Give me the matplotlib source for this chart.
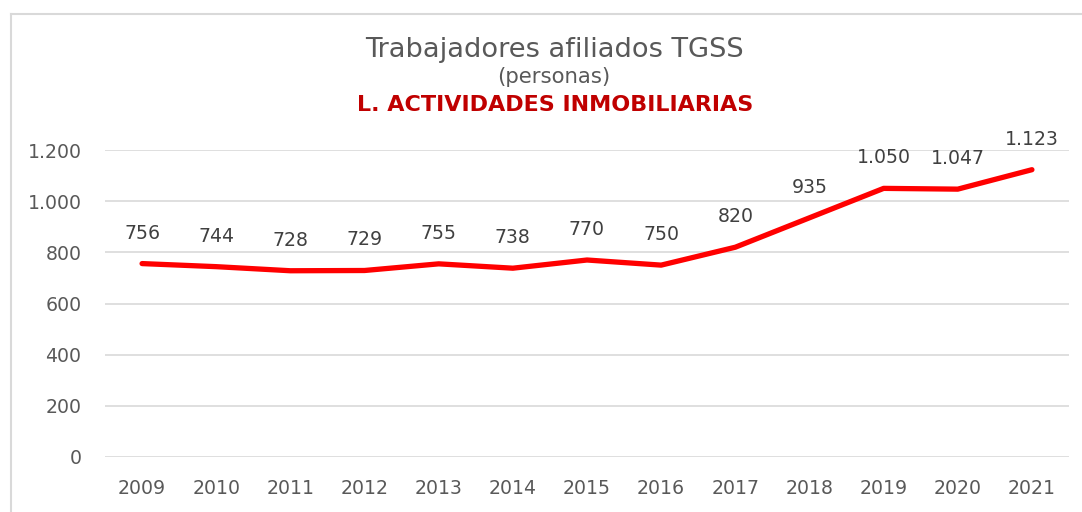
import matplotlib
matplotlib.use("Agg")
import matplotlib.pyplot as plt
from matplotlib.lines import Line2D
from matplotlib.ticker import FuncFormatter

years = ["2009", "2010", "2011", "2012", "2013", "2014", "2015",
         "2016", "2017", "2018", "2019", "2020", "2021"]
values = [756, 744, 728, 729, 755, 738, 770, 750, 820, 935, 1050, 1047, 1123]
yticks = [0, 200, 400, 600, 800, 1000, 1200]

title = "Trabajadores afiliados TGSS"
subtitle = "(personas)"
sector = "L. ACTIVIDADES INMOBILIARIAS"

W, H = 1082, 512
fig = plt.figure(figsize=(W / 100, H / 100), dpi=100)
fig.patch.set_facecolor("white")

# axes: x from 105 to 1069 px, y 0 at 457 px and 1200 at 150 px
ax = fig.add_axes([105 / W, (H - 457) / H, (1069 - 105) / W, (457 - 150) / H])
x = list(range(len(years)))
ax.plot(x, values, color="#FF0000", linewidth=3.8, solid_capstyle="round",
        solid_joinstyle="round", zorder=3)
ax.set_xlim(-0.5, len(years) - 0.5)
ax.set_ylim(0, 1200)
ax.set_yticks(yticks)
ax.yaxis.set_major_formatter(FuncFormatter(lambda v, p: f"{int(v):,}".replace(",", ".")))
ax.set_xticks(x)
ax.set_xticklabels(years)
ax.grid(axis="y", color="#d9d9d9", linewidth=1.2)
ax.set_axisbelow(True)
for s in ax.spines.values():
    s.set_visible(False)
ax.tick_params(length=0, labelsize=13.6, labelcolor="#595959")
ax.tick_params(axis="y", pad=17)
ax.tick_params(axis="x", pad=16)

for xi, v in zip(x, values):
    ax.annotate(f"{v:,}".replace(",", "."), (xi, v), xytext=(0, 22),
                textcoords="offset points", ha="center", va="center",
                fontsize=13.6, color="#404040")

fig.text(554 / W, 1 - 50 / H, title, ha="center", va="center", fontsize=19.6, color="#595959")
fig.text(554 / W, 1 - 77 / H, subtitle, ha="center", va="center", fontsize=15.3, color="#595959")
fig.text(555 / W, 1 - 105 / H, sector, ha="center", va="center", fontsize=16,
         fontweight="bold", color="#C00000")

# chart border (top and left visible)
fig.add_artist(Line2D([10.5 / W, 1.0], [1 - 13.5 / H, 1 - 13.5 / H],
                      transform=fig.transFigure, color="#d9d9d9", linewidth=1.5))
fig.add_artist(Line2D([10.5 / W, 10.5 / W], [0, 1 - 13.5 / H],
                      transform=fig.transFigure, color="#d9d9d9", linewidth=1.5))

fig.savefig("out.png", dpi=100, facecolor="white")
